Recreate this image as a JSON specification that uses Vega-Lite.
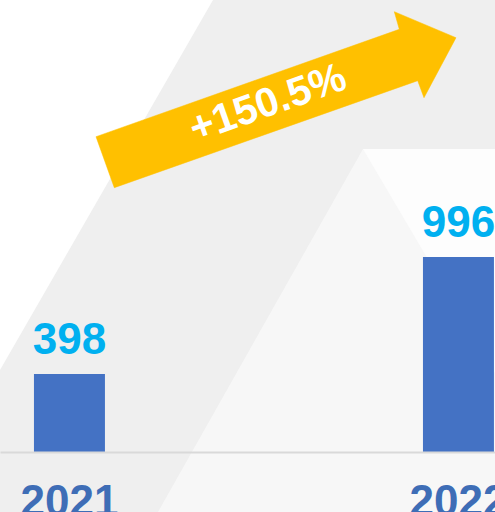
{
  "$schema": "https://vega.github.io/schema/vega-lite/v6.json",
  "width": 495,
  "height": 452,
  "autosize": {"type": "none"},
  "padding": {"left": 0, "top": 0, "right": 0, "bottom": 60},
  "background": "#efefef",
  "config": {"view": {"stroke": null}, "font": "Liberation Sans"},
  "datasets": {
    "bars": [{"year": "2021", "value": 398}, {"year": "2022", "value": 996}],
    "whiteTri": [{"pos": 0, "top": 2308, "edge": 418.7}, {"pos": 213, "top": 2308, "edge": 2308}],
    "mountain": [{"pos": 158, "top": -306.4, "edge": -306.4}, {"pos": 363, "top": 1547.2, "edge": -306.4}, {"pos": 495, "top": 1547.2, "edge": -306.4}],
    "mountainLight": [{"pos": 363, "top": 1547.2, "edge": 1547.2}, {"pos": 495, "top": 1547.2, "edge": 403.4}],
    "arrow": [
      {"i": 1, "pos": 96, "level": 1610.0},
      {"i": 2, "pos": 399.3, "level": 2158.4},
      {"i": 3, "pos": 394.3, "level": 2248.3},
      {"i": 4, "pos": 456, "level": 2115.5},
      {"i": 5, "pos": 424, "level": 1809.1},
      {"i": 6, "pos": 417.7, "level": 1895.9},
      {"i": 7, "pos": 114.3, "level": 1349.6}
    ],
    "growth": [{"pos": 268, "level": 1777, "label": "+150.5%"}]
  },
  "layer": [
    {
      "layer": [
        {
          "data": {"name": "whiteTri"},
          "mark": {"type": "area", "color": "#ffffff"},
          "encoding": {
            "x": {"field": "pos", "type": "quantitative", "scale": {"domain": [0, 495], "nice": false, "zero": false}, "axis": null},
            "y": {"field": "top", "type": "quantitative", "scale": {"domain": [0, 2308], "nice": false}, "axis": null},
            "y2": {"field": "edge"}
          }
        },
        {
          "data": {"name": "mountain"},
          "mark": {"type": "area", "color": "#f7f7f7"},
          "encoding": {
            "x": {"field": "pos", "type": "quantitative", "scale": {"domain": [0, 495], "nice": false, "zero": false}, "axis": null},
            "y": {"field": "top", "type": "quantitative", "scale": {"domain": [0, 2308], "nice": false}, "axis": null},
            "y2": {"field": "edge"}
          }
        },
        {
          "data": {"name": "mountainLight"},
          "mark": {"type": "area", "color": "#fdfdfd"},
          "encoding": {
            "x": {"field": "pos", "type": "quantitative", "scale": {"domain": [0, 495], "nice": false, "zero": false}, "axis": null},
            "y": {"field": "top", "type": "quantitative", "scale": {"domain": [0, 2308], "nice": false}, "axis": null},
            "y2": {"field": "edge"}
          }
        }
      ]
    },
    {
      "data": {"name": "bars"},
      "encoding": {
        "x": {
          "field": "year",
          "type": "nominal",
          "scale": {"paddingInner": 0.8175, "paddingOuter": 0.045, "align": 0.97},
          "axis": {
            "title": null,
            "labelAngle": 0,
            "ticks": false,
            "domainColor": "#d9d9d9",
            "domainWidth": 2,
            "labelFontSize": 44,
            "labelFontWeight": "bold",
            "labelColor": "#3e6db6",
            "labelBaseline": "alphabetic",
            "labelPadding": 63,
            "labelFont": "Liberation Sans",
            "zindex": 1
          }
        },
        "y": {"field": "value", "type": "quantitative", "scale": {"domain": [0, 2308], "nice": false}, "axis": null}
      },
      "layer": [
        {"mark": {"type": "bar", "color": "#4472c4"}},
        {
          "mark": {"type": "text", "color": "#00b0f0", "fontSize": 44, "fontWeight": "bold", "baseline": "alphabetic", "align": "center", "dy": -20},
          "encoding": {"text": {"field": "value", "type": "quantitative"}}
        }
      ]
    },
    {
      "layer": [
        {
          "data": {"name": "arrow"},
          "mark": {"type": "line", "fill": "#ffc000", "stroke": "#ffc000", "strokeWidth": 0.5, "interpolate": "linear-closed"},
          "encoding": {
            "x": {"field": "pos", "type": "quantitative", "scale": {"domain": [0, 495], "nice": false, "zero": false}, "axis": null},
            "y": {"field": "level", "type": "quantitative", "scale": {"domain": [0, 2308], "nice": false}, "axis": null},
            "order": {"field": "i", "type": "quantitative"}
          }
        },
        {
          "data": {"name": "growth"},
          "mark": {"type": "text", "color": "#ffffff", "fontSize": 41, "fontWeight": "bold", "angle": 340.5, "align": "center", "baseline": "middle"},
          "encoding": {
            "x": {"field": "pos", "type": "quantitative", "scale": {"domain": [0, 495], "nice": false, "zero": false}, "axis": null},
            "y": {"field": "level", "type": "quantitative", "scale": {"domain": [0, 2308], "nice": false}, "axis": null},
            "text": {"field": "label"}
          }
        }
      ]
    }
  ],
  "resolve": {"scale": {"x": "independent"}}
}
